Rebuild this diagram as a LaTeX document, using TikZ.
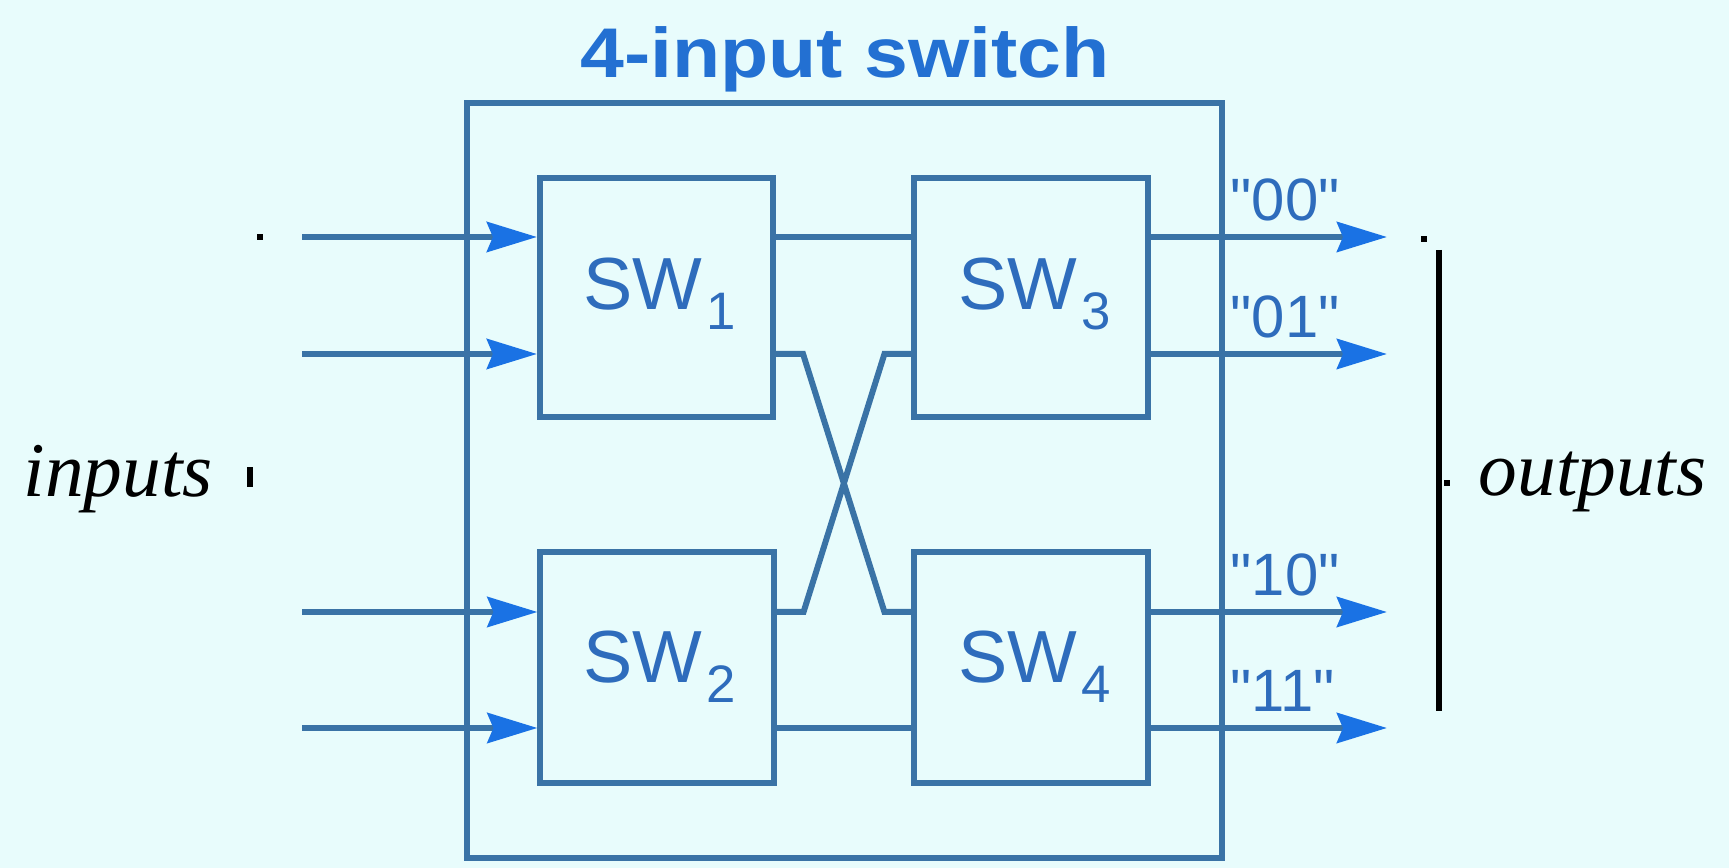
\documentclass[tikz,border=0pt]{standalone}
\usepackage{graphicx}
\usepackage{fontspec}
\setmainfont{Liberation Sans}
\newfontfamily\rawsans{Liberation Sans}
\newfontfamily\serifit{Liberation Serif}
\usetikzlibrary{arrows.meta}
\definecolor{bg}{HTML}{E8FCFC}
\definecolor{ln}{HTML}{3A73A6}
\definecolor{arr}{HTML}{1A72E4}
\definecolor{ttl}{HTML}{2370D2}
\definecolor{txt}{HTML}{2E6CBC}
\begin{document}
\begin{tikzpicture}[x=0.01cm,y=-0.01cm,
  wire/.style={draw=ln,line width=1.7pt},
  swbox/.style={draw=ln,line width=1.7pt,fill=bg,inner sep=0pt,minimum width=2.33cm},
  tiparrow/.style={-{Stealth[length=0.5cm,width=0.3cm,inset=0.06cm,color=arr]}},
  swlabel/.style={anchor=base west,inner sep=0pt,text=txt,font=\fontsize{21}{24}\selectfont},
  outlabel/.style={anchor=base west,inner sep=0pt,text=txt,font=\rawsans\fontsize{17}{20}\selectfont},
  sidelabel/.style={anchor=base west,inner sep=0pt,font=\serifit\itshape\fontsize{22}{26}\selectfont},
  dotmark/.style={fill=black,inner sep=0pt,minimum width=0.06cm,minimum height=0.06cm}
]
\fill[bg] (0,0) rectangle (1729,868);
\useasboundingbox (0,0) rectangle (1729,868);

% title
\node (title) [anchor=base,inner sep=0pt,text=ttl,font=\fontsize{20}{24}\selectfont\bfseries] at (845,78) {\scalebox{1.12}[1]{4-input switch}};

% outer box
\node (outer) [draw=ln,line width=1.7pt,inner sep=0pt,minimum width=7.55cm,minimum height=7.55cm] at (844.5,480.5) {};

% switch boxes
\node (sw1) [swbox,minimum height=2.39cm] at (656.5,297.5) {};
\node (sw3) [swbox,minimum height=2.39cm] at (1031,297.5) {};
\node (sw2) [swbox,minimum height=2.31cm] at (657,667.5) {};
\node (sw4) [swbox,minimum height=2.31cm] at (1031,667.5) {};

% labels
\node (l1) [swlabel] at (583,310) {SW\kern1pt\raisebox{-0.2cm}{\fontsize{15}{15}\selectfont 1}};
\node (l3) [swlabel] at (958,310) {SW\kern1pt\raisebox{-0.2cm}{\fontsize{15}{15}\selectfont 3}};
\node (l2) [swlabel] at (583,683) {SW\kern1pt\raisebox{-0.2cm}{\fontsize{15}{15}\selectfont 2}};
\node (l4) [swlabel] at (958,683) {SW\kern1pt\raisebox{-0.2cm}{\fontsize{15}{15}\selectfont 4}};

% input free ends
\coordinate (i1) at (302,237);
\coordinate (i2) at (302,354);
\coordinate (i3) at (302,612);
\coordinate (i4) at (302,728);
% output free ends
\coordinate (o1) at (1387,237);
\coordinate (o2) at (1387,354);
\coordinate (o3) at (1387,612);
\coordinate (o4) at (1387,728);

% inputs
\draw[wire,tiparrow] (i1) -- (sw1.west |- i1);
\draw[wire,tiparrow] (i2) -- (sw1.west |- i2);
\draw[wire,tiparrow] (i3) -- (sw2.west |- i3);
\draw[wire,tiparrow] (i4) -- (sw2.west |- i4);

% internal links
\draw[wire] (sw1.east |- i1) -- (sw3.west |- i1);
\draw[wire] (sw2.east |- i4) -- (sw4.west |- i4);
\draw[wire] (sw1.east |- i2) -- ++(27,0) -- ([xshift=-0.27cm]sw4.west |- i3) -- (sw4.west |- i3);
\draw[wire] (sw2.east |- i3) -- ++(27,0) -- ([xshift=-0.27cm]sw3.west |- i2) -- (sw3.west |- i2);

% outputs
\draw[wire,tiparrow] (sw3.east |- o1) -- (o1);
\draw[wire,tiparrow] (sw3.east |- o2) -- (o2);
\draw[wire,tiparrow] (sw4.east |- o3) -- (o3);
\draw[wire,tiparrow] (sw4.east |- o4) -- (o4);

\node (t00) [outlabel] at (1230,221) {"00"};
\node (t01) [outlabel] at (1230,338) {"01"};
\node (t10) [outlabel] at (1230,596) {"10"};
\node (t11) [outlabel] at (1230,712) {"11"};

% left brace remnants
\node (dl) [dotmark] at (260,237) {};
\node (tl) [fill=black,inner sep=0pt,minimum width=0.06cm,minimum height=0.2cm] at (250,477) {};
\node (inputs) [sidelabel] at (23,497) {inputs};

% right bracket
\node (dr) [dotmark] at (1424,239) {};
\coordinate (bt) at (1439,250);
\coordinate (bb) at (1439,711);
\draw[black,line width=1.7pt] (bt) -- (bb);
\node (nr) [dotmark] at (1447,483) {};
\node (outputs) [sidelabel] at (1478,496) {outputs};
\end{tikzpicture}
\end{document}
